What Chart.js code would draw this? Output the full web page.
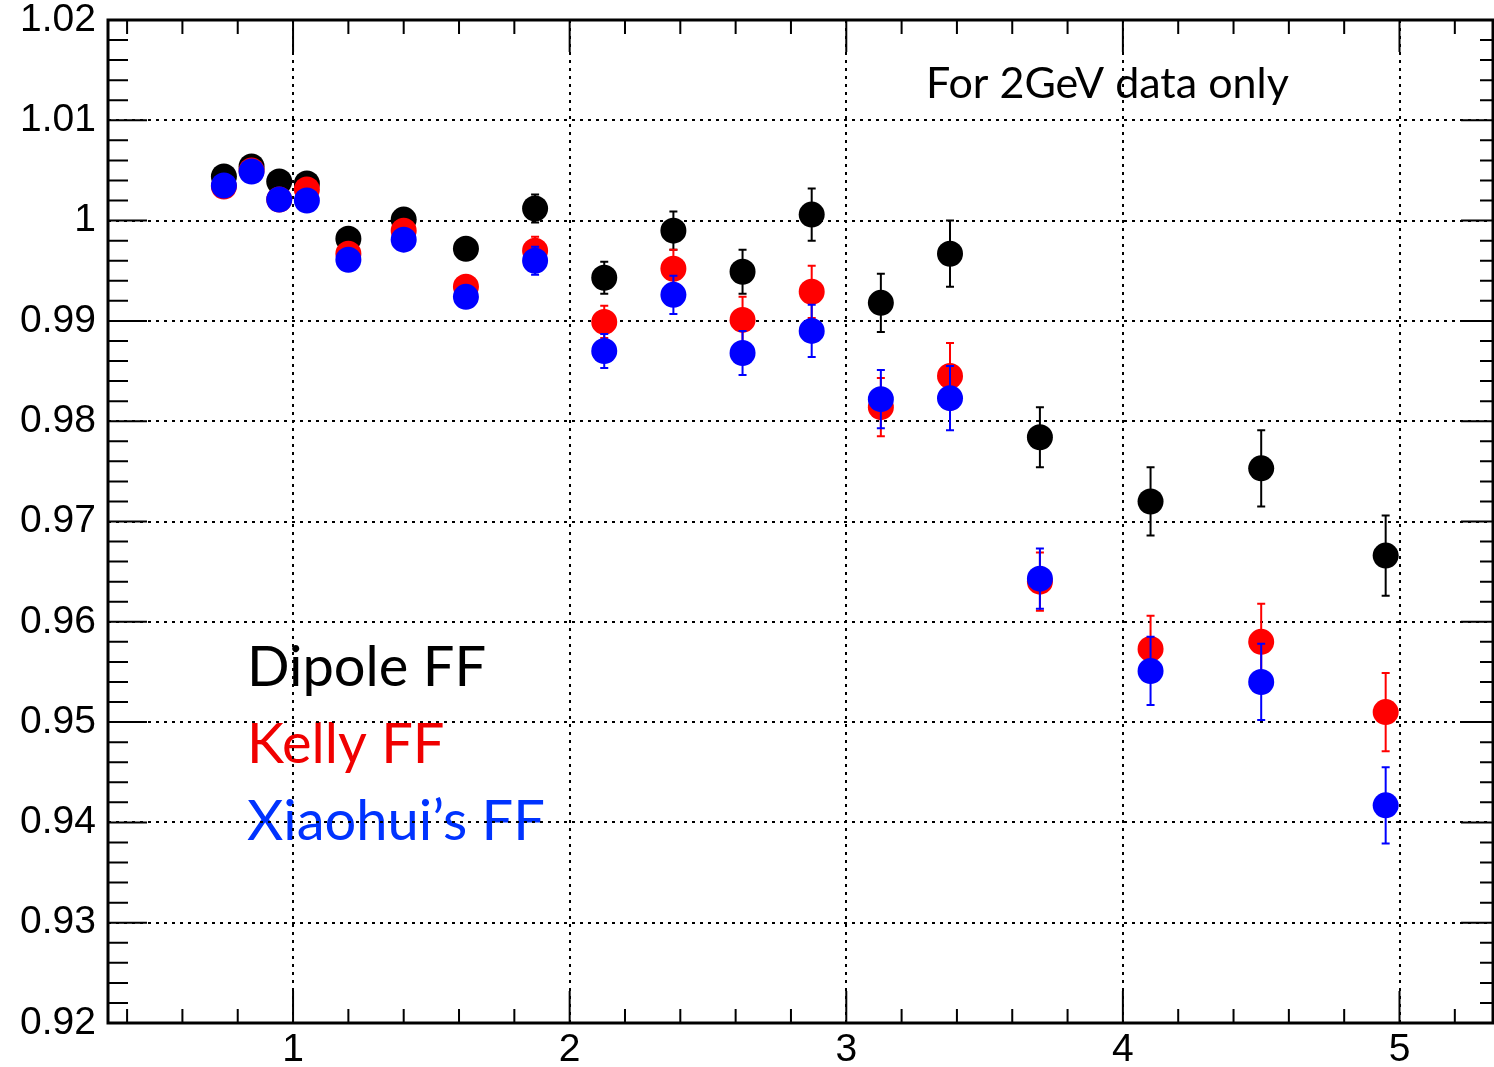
<!DOCTYPE html>
<html>
<head>
<meta charset="utf-8">
<title>Form factor comparison, 2GeV data</title>
<script src="https://cdn.jsdelivr.net/npm/chart.js@4.4.1/dist/chart.umd.min.js"></script>
<style>
  html, body { margin: 0; padding: 0; background: #fff; }
  #wrap { width: 1494px; height: 1067px; }
</style>
</head>
<body>
<div id="wrap"><canvas id="myChart" width="1494" height="1067"></canvas></div>
<script>
// Values
const xValues = [0.75, 0.85, 0.95, 1.05, 1.2, 1.4, 1.625, 1.875, 2.125, 2.375, 2.625, 2.875, 3.125, 3.375, 3.7, 4.1, 4.5, 4.95];

const dipole    = [1.0044, 1.0054, 1.0039, 1.0037, 0.9982, 1.0001, 0.9972, 1.0012, 0.9943, 0.9990, 0.9949, 1.0006, 0.9918, 0.9967, 0.9784, 0.9720, 0.9753, 0.9666];
const dipoleErr = [0.0004, 0.0005, 0.0005, 0.0005, 0.0007, 0.0008, 0.0010, 0.0014, 0.0016, 0.0019, 0.0022, 0.0026, 0.0029, 0.0033, 0.0030, 0.0034, 0.0038, 0.0040];

const kelly    = [1.0034, 1.0050, 1.0021, 1.0031, 0.9967, 0.9990, 0.9934, 0.9970, 0.9899, 0.9952, 0.9901, 0.9929, 0.9814, 0.9845, 0.9640, 0.9573, 0.9580, 0.9510];
const kellyErr = [0.0004, 0.0005, 0.0005, 0.0005, 0.0007, 0.0008, 0.0010, 0.0014, 0.0016, 0.0019, 0.0023, 0.0026, 0.0029, 0.0033, 0.0029, 0.0033, 0.0038, 0.0039];

const xiaohui    = [1.0035, 1.0049, 1.0021, 1.0020, 0.9961, 0.9981, 0.9924, 0.9960, 0.9870, 0.9926, 0.9868, 0.9890, 0.9822, 0.9823, 0.9643, 0.9551, 0.9540, 0.9417];
const xiaohuiErr = [0.0004, 0.0005, 0.0005, 0.0005, 0.0007, 0.0008, 0.0010, 0.0014, 0.0017, 0.0019, 0.0022, 0.0026, 0.0029, 0.0032, 0.0030, 0.0034, 0.0038, 0.0038];

const xTickLabels = ['1', '2', '3', '4', '5'];
const yTickLabels = ['0.92', '0.93', '0.94', '0.95', '0.96', '0.97', '0.98', '0.99', '1', '1.01', '1.02'];

function toPoints(ys) {
    return xValues.map((x, i) => ({ x: x, y: ys[i] }));
}

// Error bars, drawn just before each dataset so its markers sit on top
const errorBars = {
    id: 'errorBars',
    beforeDatasetDraw(chart, args) {
        const ds = chart.data.datasets[args.index];
        const xs = chart.scales.x;
        const ys = chart.scales.y;
        const ctx = chart.ctx;
        ctx.save();
        ctx.strokeStyle = ds.backgroundColor;
        ctx.lineWidth = 2;
        ctx.beginPath();
        ds.errors.forEach((e, i) => {
            const p = ds.data[i];
            const px = xs.getPixelForValue(p.x);
            const top = ys.getPixelForValue(p.y + e);
            const bot = ys.getPixelForValue(p.y - e);
            ctx.moveTo(px, top);
            ctx.lineTo(px, bot);
            ctx.moveTo(px - 4, top);
            ctx.lineTo(px + 4, top);
            ctx.moveTo(px - 4, bot);
            ctx.lineTo(px + 4, bot);
        });
        ctx.stroke();
        ctx.restore();
    }
};

// Frame with inward major and minor ticks on all four sides
const frameAndTicks = {
    id: 'frameAndTicks',
    afterDraw(chart) {
        const ctx = chart.ctx;
        const a = chart.chartArea;
        const xs = chart.scales.x;
        const ys = chart.scales.y;
        ctx.save();
        ctx.strokeStyle = '#000';
        ctx.lineWidth = 2;
        ctx.beginPath();
        for (let k = 2; k <= 26; k++) {
            const px = xs.getPixelForValue(k / 5);
            const len = (k % 5 === 0) ? 32 : 14;
            ctx.moveTo(px, a.bottom);
            ctx.lineTo(px, a.bottom - len);
            ctx.moveTo(px, a.top);
            ctx.lineTo(px, a.top + len);
        }
        for (let k = 0; k <= 50; k++) {
            const py = ys.getPixelForValue(0.92 + k * 0.002);
            const major = k % 5 === 0;
            ctx.moveTo(a.left, py);
            ctx.lineTo(a.left + (major ? 39 : 20), py);
            ctx.moveTo(a.right, py);
            ctx.lineTo(a.right - (major ? 32 : 13), py);
        }
        ctx.stroke();
        ctx.lineWidth = 3;
        ctx.strokeRect(a.left, a.top, a.right - a.left, a.bottom - a.top);
        ctx.restore();
    }
};

// Note and hand-made legend
const notes = {
    id: 'notes',
    beforeDraw(chart) {
        const ctx = chart.ctx;
        ctx.save();
        ctx.textBaseline = 'alphabetic';
        ctx.textAlign = 'left';
        ctx.font = '43px Lato';
        ctx.fillStyle = '#000';
        ctx.fillText('For 2GeV data only', 926, 98);
        ctx.font = '56px Lato';
        ctx.fillStyle = '#000';
        ctx.fillText('Dipole FF', 247, 686);
        ctx.fillStyle = '#f00000';
        ctx.fillText('Kelly FF', 247, 763);
        ctx.fillStyle = '#0033ff';
        ctx.fillText('Xiaohui\u2019s FF', 247, 840);
        ctx.restore();
    }
};

// keep the plot frame where the layout padding puts it
function noLabelPadding(s) {
    s.paddingTop = 0;
    s.paddingBottom = 0;
    s.paddingLeft = 0;
    s.paddingRight = 0;
}

const tickFont = { family: 'Liberation Sans', size: 39, lineHeight: 1 };

const ctx = document.getElementById('myChart').getContext('2d');

const myChart = new Chart(ctx, {
    type: 'scatter',
    data: {
        datasets: [
            { label: 'Dipole FF', data: toPoints(dipole), errors: dipoleErr,
              backgroundColor: '#000000', borderColor: '#000000', order: 3 },
            { label: 'Kelly FF', data: toPoints(kelly), errors: kellyErr,
              backgroundColor: '#ff0000', borderColor: '#ff0000', order: 2 },
            { label: 'Xiaohui\u2019s FF', data: toPoints(xiaohui), errors: xiaohuiErr,
              backgroundColor: '#0000ff', borderColor: '#0000ff', order: 1 }
        ]
    },
    options: {
        responsive: false,
        animation: false,
        devicePixelRatio: 1,
        layout: { autoPadding: false, padding: { top: 20, right: 1, left: 0, bottom: 0 } },
        elements: { point: { radius: 13, hoverRadius: 13, borderWidth: 0, pointStyle: 'circle' } },
        plugins: {
            legend: { display: false },
            tooltip: { enabled: false }
        },
        scales: {
            x: {
                type: 'linear',
                min: 0.331,
                max: 5.338,
                afterBuildTicks: (s) => { s.ticks = xTickLabels.map(t => ({ value: Number(t) })); },
                afterFit: (s) => { s.height = 44; noLabelPadding(s); },
                grid: { color: '#000', lineWidth: 2, drawTicks: false },
                border: { display: false, dash: [3, 5] },
                ticks: {
                    color: '#000', font: tickFont, padding: 8, maxRotation: 0,
                    callback: (v, i) => xTickLabels[i]
                }
            },
            y: {
                type: 'linear',
                min: 0.92,
                max: 1.02,
                afterBuildTicks: (s) => { s.ticks = yTickLabels.map(t => ({ value: Number(t) })); },
                afterFit: (s) => { s.width = 108; noLabelPadding(s); },
                grid: { color: '#000', lineWidth: 2, drawTicks: false },
                border: { display: false, dash: [3, 5] },
                ticks: {
                    color: '#000', font: tickFont, padding: 12,
                    callback: (v, i) => yTickLabels[i]
                }
            }
        }
    },
    plugins: [errorBars, frameAndTicks, notes]
});
</script>
</body>
</html>
